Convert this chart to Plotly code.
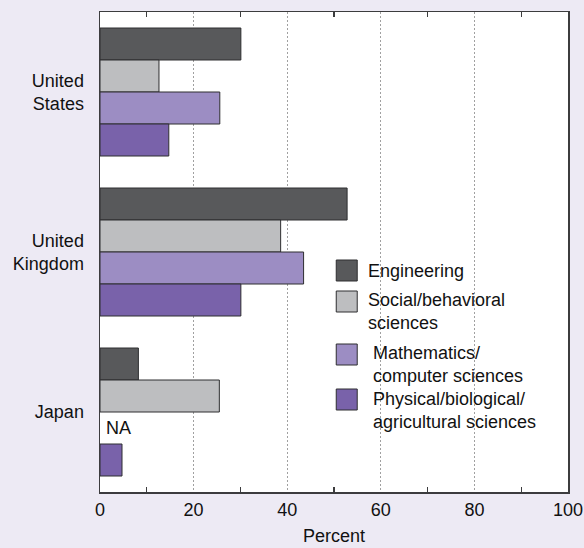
import plotly.graph_objects as go

countries = ["United States", "United Kingdom", "Japan"]
country_labels = ["United<br>States", "United<br>Kingdom", "Japan"]
fields = ["Engineering", "Social/behavioral sciences", "Mathematics/computer sciences",
          "Physical/biological/agricultural sciences"]
legend_labels = ["Engineering", "Social/behavioral<br>sciences",
                 "Mathematics/<br>computer sciences", "Physical/biological/<br>agricultural sciences"]
engineering = [30.1, 52.8, 8.2]
social = [12.6, 38.6, 25.5]
mathematics = [25.6, 43.5, None]
physical = [14.7, 30.1, 4.7]
na_label = "NA"
x_title = "Percent"
x_ticks = [0, 20, 40, 60, 80, 100]

series = [engineering, social, mathematics, physical]
colors = ["#58595B", "#BDBEC0", "#9C8DC3", "#7962AA"]
outline = "#2e2e30"
FONT = "Liberation Sans, Arial, Helvetica, sans-serif"
FS = 18
BG = "#EDEAF4"
TXT = "#111111"
AXC = "#3c3c3e"

fig = go.Figure()
for name, vals, col in zip(fields, series, colors):
    fig.add_trace(go.Bar(
        y=countries, x=vals, name=name, orientation="h",
        marker=dict(color=col, line=dict(color=outline, width=1)),
        showlegend=False, hoverinfo="skip",
    ))

W, H = 584, 548
L, R, T, B = 99.5, 16, 12, 56
pw, ph = W - L - R, H - T - B


def px2paper(xp, yp):
    return (xp - L) / pw, (H - B - yp) / ph


annotations = []
shapes = []
# manual legend (boxes + labels)
box_tops = [260, 291, 344, 389]
text_centers = [270.7, 311.5, 364, 410]
text_x = [366, 366, 370.5, 370.5]
for i, col in enumerate(colors):
    x0, y0 = px2paper(336, box_tops[i])
    x1, y1 = px2paper(357, box_tops[i] + 21)
    shapes.append(dict(type="rect", xref="paper", yref="paper", x0=x0, x1=x1, y0=y1, y1=y0,
                       fillcolor=col, line=dict(color=outline, width=1), layer="above"))
    ax, ay = px2paper(text_x[i], text_centers[i])
    annotations.append(dict(text=legend_labels[i], xref="paper", yref="paper", x=ax, y=ay,
                            xanchor="left", yanchor="middle", align="left", showarrow=False,
                            font=dict(family=FONT, size=FS, color=TXT)))

# NA label for Japan mathematics slot
annotations.append(dict(text=na_label, xref="x", yref="y", x=0, y=2.1, xanchor="left",
                        yanchor="middle", xshift=4, showarrow=False,
                        font=dict(family=FONT, size=FS, color=TXT)))

# x-axis title
tx, ty = px2paper(0, 535.5)
annotations.append(dict(text=x_title, xref="paper", yref="paper", x=0.5, y=ty,
                        xanchor="center", yanchor="middle", showarrow=False,
                        font=dict(family=FONT, size=FS, color=TXT)))

fig.update_layout(
    width=W, height=H,
    margin=dict(l=L, r=R, t=T, b=B, pad=0, autoexpand=False),
    paper_bgcolor=BG, plot_bgcolor="white",
    barmode="group", bargap=0.2, bargroupgap=0,
    font=dict(family=FONT, size=FS, color=TXT),
    annotations=annotations, shapes=shapes,
    showlegend=False,
    xaxis=dict(range=[0, 100], tickvals=x_ticks, ticks="", showline=True,
               linecolor=AXC, linewidth=1.5, mirror="allticks", showgrid=True,
               gridcolor="#a0a0a0", gridwidth=1, griddash="2px,2px",
               zeroline=False, ticklabelstandoff=1, automargin=False,
               minor=dict(ticks="inside", tick0=10, dtick=20, ticklen=5,
                          tickcolor=AXC, tickwidth=1.2, showgrid=False),
               tickfont=dict(family=FONT, size=FS)),
    xaxis2=dict(overlaying="x", side="top", range=[0, 100], showticklabels=False,
                showgrid=False, zeroline=False, showline=False, ticks="", automargin=False,
                minor=dict(ticks="inside", tick0=10, dtick=20, ticklen=5, tickcolor=AXC,
                           tickwidth=1.2, showgrid=False)),
    yaxis=dict(type="category", categoryorder="array", categoryarray=countries,
               tickvals=countries, ticktext=country_labels, automargin=False,
               range=[2.5, -0.5], showline=True, linecolor=AXC, linewidth=1.5, mirror=True,
               ticks="", showgrid=False, zeroline=False, ticklabelstandoff=11,
               tickfont=dict(family=FONT, size=FS)),
)

fig.write_html("out.html", config={"displayModeBar": False, "staticPlot": True},
               post_script="document.body.style.margin='0';document.body.style.overflow='hidden';")
